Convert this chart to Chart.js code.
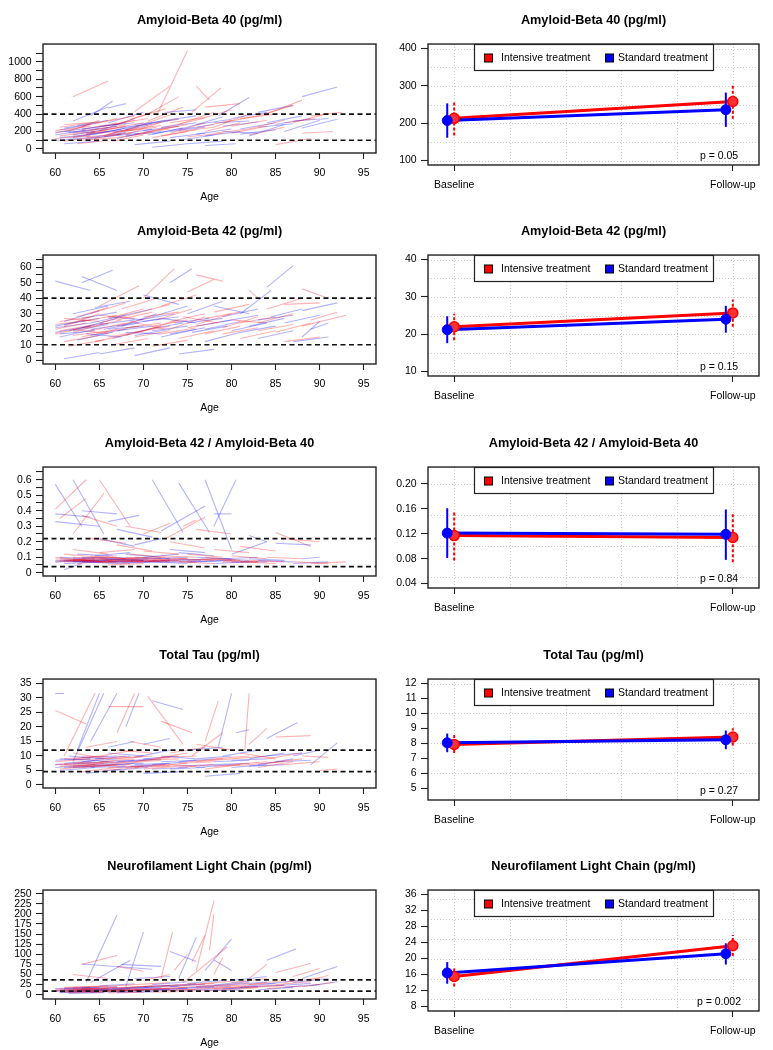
<!DOCTYPE html>
<html><head><meta charset="utf-8">
<script src="https://cdn.jsdelivr.net/npm/chart.js@4.4.1/dist/chart.umd.min.js"></script>
<style>
html,body{margin:0;padding:0;background:#fff;overflow:hidden}
body{position:relative;width:773px;height:1050px}
canvas{position:absolute}
</style>
</head><body>
<script>
// ---------------- DATA ----------------
const panelTitles = ['Amyloid-Beta 40 (pg/ml)','Amyloid-Beta 42 (pg/ml)','Amyloid-Beta 42 / Amyloid-Beta 40','Total Tau (pg/ml)','Neurofilament Light Chain (pg/ml)'];
const pValues = ['p = 0.05','p = 0.15','p = 0.84','p = 0.27','p = 0.002'];
const legendLabels = ['Intensive treatment','Standard treatment'];
const timeLabels = ['Baseline','Follow-up'];
const ageTicks = [60,65,70,75,80,85,90,95];
const ageTickLabels = ['60','65','70','75','80','85','90','95'];

// individual trajectories: [baseline age, baseline value, follow-up age, follow-up value]
const ab40Intensive = [[62,600,66,780],[71.5,380,75,1130],[69,430,73,720],[76,720,77.5,560],[75.5,420,78.8,700],[60,180,63.5,260],[60,120,64,150],[60.5,250,64,300],[61,90,65,140],[61.5,200,65,330],[62,140,66,210],[62.5,60,66,100],[63,260,67,350],[63.5,170,67,240],[64,210,68,280],[64.5,120,68.5,190],[65,300,69,380],[65.5,150,69.5,260],[66,230,70,300],[66.5,90,70,160],[67,280,71,420],[67.5,200,71.5,250],[68,160,72,310],[69,250,73,390],[70,190,74,260],[70.5,320,74.5,480],[71,130,75,200],[72,240,76,330],[73,180,77,300],[74,280,78,420],[75,140,79,180],[76,330,80,450],[77,200,81,300],[78,250,82,400],[79,300,83,380],[80,180,84,260],[81,350,85,400],[82,230,86,330],[84,400,88,560],[85,50,89,120],[86,300,89.5,350],[88,180,91.5,200],[89,380,92.5,420],[77,480,81,520],[68.5,340,72.5,460],[70.5,400,74,600],[83,380,87,500],[87,300,91,410],[63,100,67,130],[65,180,69,220],
  [60,210,64,260],[60.5,150,64.5,200],[61,280,65,310],[62,180,66,250],[63,220,67,300],[63.5,140,67.5,170],[64,190,68,260],[65,250,69,330],[66,170,70,240],[66.5,280,70.5,350],[67,130,71,190],[68,220,72,270],[69,170,73,230],[70,260,74,350],[71,210,75,280],[72,150,76,220],[73,300,77,360],[74,200,78,250],[76,240,80,330],[78,180,82,230],[80,260,84,330],[82,160,86,250]];
const ab40Standard = [[88,600,92,710],[64,380,66.5,550],[78.5,380,82,590],[60,160,63.5,220],[60,100,64,130],[60.5,220,64,280],[61,60,65,90],[61.5,180,65,240],[62,130,66,200],[62.5,270,66,330],[63,200,67,260],[63.5,110,67.5,170],[64,240,68,300],[64.5,170,68,240],[65,210,69,350],[65.5,140,69.5,180],[66,300,70,420],[66.5,190,70.5,270],[67,120,71,210],[68,230,72,320],[69,50,73,90],[70,280,74,340],[70.5,160,74.5,240],[71,20,75,60],[72,320,76,380],[73,200,77,250],[74,100,78,160],[75,250,79,370],[76,170,80,230],[77,40,80.5,60],[78,300,82,320],[79,200,83,180],[80,350,84,420],[81,230,85,300],[82,150,86,280],[83,420,87,500],[85,280,89,350],[86,200,90,330],[87,320,91,350],[88,240,92,340],[84,300,88,380],[72.5,420,76,450],[66,470,68,520],[62,320,66,480],[75,60,79,90],[61,200,64.5,190],[67,160,71,230],
  [60,190,64,240],[60.5,130,64.5,170],[61,240,65,300],[62,160,66,230],[63,230,67,280],[63.5,170,67.5,220],[64,130,68,190],[65,260,69,300],[66,200,70,280],[67,240,71,290],[68,150,72,200],[69,280,73,330],[70,210,74,260],[71,170,75,250],[72,250,76,300],[73,130,77,180],[74,220,78,280],[76,280,80,340],[77,150,81,200],[79,260,83,310],[81,170,85,220],[83,250,87,290]];

const ab42Intensive = [[60,20,63.5,24],[60,17,64,22],[60.5,25,64,28],[61,12,65,16],[61,22,65,30],[61.5,9,65.5,13],[62,18,66,24],[62.5,28,66,34],[63,15,67,20],[63.5,21,67.5,26],[64,30,68,37],[64.5,12,68.5,17],[65,24,69,30],[65,35,69.5,48],[65.5,18,69.5,22],[66,27,70,33],[66.5,10,70.5,14],[67,22,71,28],[67.5,33,71.5,40],[68,16,72,22],[68.5,25,72.5,20],[69,30,73,36],[70,40,73.5,59],[70,19,74,26],[71,9,75,13],[71.5,26,75.5,33],[72,35,76,42],[73,20,77,28],[74,14,78,19],[74.5,28,78.5,24],[75,44,78,52],[76,55,79,51],[76,23,80,30],[77,17,81,22],[78,31,82,36],[79,21,83,28],[80,26,84,24],[81,14,85,19],[82,45,83,40],[83,24,87,30],[84,33,88,40],[85,18,89,24],[86,36,90,37],[88,46,91,40],[88,22,93,29],[89,26,92,31],[86,12,90,15],[62,20,66,17],[69,15,73,19],
  [60,23,64,26],[60.5,19,64.5,23],[61,27,65,25],[62,16,66,19],[63,25,67,29],[64,19,68,24],[65,29,69,27],[66,15,70,19],[67,26,71,31],[68,21,72,24],[69,18,73,22],[70,28,74,31],[71,22,75,26],[72,17,76,21],[73,25,77,30],[75,21,79,25],[77,27,81,31],[79,17,83,21],[81,24,85,28],[83,19,87,23]];
const ab42Standard = [[60,51,64,45],[63,50,66.5,58],[63,54,67,45],[84,47,87,61],[60,18,64,22],[60,22,63.5,26],[60.5,15,64.5,20],[61,1,65,5],[61,25,65,32],[61.5,19,65.5,24],[62,30,66,35],[62.5,13,66.5,18],[63,21,67,27],[63.5,17,67.5,15],[64,24,68,29],[64.5,34,68.5,38],[65,4,69,8],[65.5,20,69.5,24],[66,28,70,26],[66.5,14,70.5,20],[67.5,22,71.5,30],[68,18,72,17],[69,3,73,8],[69.5,26,73.5,30],[70,42,74,36],[70.5,20,74.5,24],[71,28,75,35],[72,15,76,20],[73,50,75.5,59],[73.5,24,77.5,27],[74,4,78,7],[75,30,79,38],[75.5,18,79.5,22],[76,22,80,26],[77,12,81,18],[78,35,82,30],[79,25,83,29],[80,19,84,24],[81,30,84.5,45],[82,22,86,27],[83,14,87,19],[84.5,28,88,33],[86,24,90,29],[88,15,90,25],[89,20,91,24],[88,32,92,37],[87,12,91,15],[64,20,68,23],[67,19,71,22],
  [60,21,64,24],[60.5,17,64.5,19],[61,23,65,27],[62,19,66,23],[63,27,67,31],[64,16,68,20],[65,23,69,26],[66,20,70,22],[67,28,71,33],[68,23,72,27],[69,16,73,20],[70,25,74,28],[71,19,75,22],[72,27,76,24],[73,17,77,21],[75,24,79,27],[77,20,81,25],[79,28,83,33],[81,18,85,22],[83,26,87,29]];

const ratioIntensive = [[60,0.41,63.5,0.60],[60.5,0.35,63.5,0.48],[62,0.25,65.5,0.51],[65,0.60,68.5,0.30],[63,0.37,67,0.30],[68,0.30,72,0.26],[72.5,0.22,77,0.36],[85,0.26,89,0.17],[86,0.22,90,0.20],[76,0.28,80,0.25],[60,0.10,64,0.08],[60,0.07,63.5,0.09],[61,0.12,65,0.10],[61.5,0.08,65.5,0.07],[62,0.15,66,0.12],[62.5,0.06,66.5,0.08],[63,0.09,67,0.11],[64,0.11,68,0.09],[64.5,0.07,68.5,0.06],[65,0.13,69,0.15],[65.5,0.08,69.5,0.09],[66,0.10,70,0.08],[67,0.18,71,0.14],[67.5,0.07,71.5,0.08],[68.5,0.12,72.5,0.10],[69,0.09,73,0.07],[70,0.14,74,0.12],[71,0.08,75,0.09],[72,0.11,76,0.10],[73,0.20,77,0.16],[74,0.07,78,0.06],[75,0.12,79,0.10],[76.5,0.09,80.5,0.08],[78,0.15,82,0.13],[79,0.07,83,0.07],[80,0.11,84,0.09],[82,0.08,86,0.07],[84,0.10,88,0.09],[87,0.07,91,0.06],[89,0.06,93,0.07],[64,0.22,68,0.19],[70,0.25,73,0.32],[74.5,0.30,76,0.34],[66,0.05,70,0.06],[81,0.17,85,0.14],[62,0.08,66,0.09],[68,0.08,72,0.07],
  [60,0.09,64,0.08],[60.5,0.08,64.5,0.08],[61,0.07,65,0.08],[62,0.10,66,0.09],[63,0.08,67,0.07],[64,0.09,68,0.08],[65,0.07,69,0.08],[65,0.10,69,0.09],[66,0.08,70,0.07],[67,0.09,71,0.10],[68,0.10,72,0.09],[69,0.07,73,0.08],[70,0.09,74,0.08],[71,0.10,75,0.09],[72,0.08,76,0.07],[74,0.09,78,0.08],[75,0.08,79,0.09],[77,0.10,81,0.08],[79,0.08,83,0.07],[81,0.07,85,0.06]];
const ratioStandard = [[60,0.57,63,0.30],[62,0.60,65.5,0.25],[71,0.60,74.5,0.26],[74,0.58,77.5,0.26],[77,0.60,80,0.15],[78,0.30,80.5,0.60],[72,0.27,77,0.43],[60,0.38,64,0.36],[60,0.33,65,0.30],[63,0.40,67,0.38],[66,0.33,69.5,0.37],[78,0.38,80,0.38],[61,0.02,63,0.06],[60,0.08,64,0.07],[60.5,0.10,64.5,0.09],[61,0.06,65,0.07],[62,0.09,66,0.10],[62.5,0.12,66.5,0.11],[63,0.07,67,0.06],[64,0.08,68,0.09],[64.5,0.11,68.5,0.13],[65,0.07,69,0.07],[66,0.09,70,0.08],[67,0.06,71,0.07],[68,0.12,72,0.10],[69,0.08,73,0.08],[70,0.10,74,0.12],[71,0.07,75,0.06],[72.5,0.09,76.5,0.08],[74,0.13,78,0.11],[75,0.07,79,0.08],[76,0.10,80,0.09],[78,0.06,82,0.07],[79,0.09,83,0.10],[80,0.12,84,0.20],[82,0.24,84,0.20],[83,0.08,87,0.07],[85,0.19,89,0.18],[87,0.06,91,0.07],[88,0.09,90,0.10],[67,0.28,71,0.23],[69,0.18,72,0.22],[65,0.22,69,0.17],[73,0.15,77,0.13],[63,0.08,67,0.08],
  [60,0.07,64,0.08],[60.5,0.09,64.5,0.08],[61,0.08,65,0.07],[62,0.07,66,0.08],[63,0.10,67,0.09],[64,0.07,68,0.07],[65,0.09,69,0.08],[66,0.07,70,0.08],[66.5,0.10,70.5,0.09],[67,0.08,71,0.09],[68,0.07,72,0.07],[69,0.10,73,0.09],[70,0.07,74,0.08],[71,0.09,75,0.10],[72,0.07,76,0.07],[74,0.08,78,0.09],[76,0.07,80,0.08],[78,0.09,82,0.08],[80,0.07,84,0.07],[82,0.09,86,0.08]];

const tauIntensive = [[60,25.7,63.5,21],[61,10,64.5,31.6],[66,27,70,27],[67,18,69,31.6],[70.5,30.5,74.5,14],[72,22,75.5,18],[77,15,78.5,29],[81.5,12,82,31.6],[82,14,84,19.5],[85,16.5,89,17],[60,7,64,8],[60.5,5.5,64.5,6.5],[61,9,65,10],[61.5,6,65.5,7.5],[62,11,66,9],[62.5,7.5,66.5,8],[63,4.5,67,6],[64,8.5,68,10],[64.5,6.5,68.5,7],[65,10,69,12],[65.5,5,69.5,6],[66,7,70,8.5],[67,12,71,11],[68,6,72,7],[69,8,73,9.5],[70,5.5,74,6.5],[71,9,75,11],[72,7,76,6.5],[73,11,77,13],[74,6,78,7],[75,8,79,9],[76,14,80,12],[77,5.5,81,7],[78,9,82,10],[80,7,84,8],[81,11,85,9],[83,6,87,8],[84,9,88,11],[86,7,90,8],[88,10,91,9.5],[90,5,92,5.5],[68.5,15,72,13],[63.5,13,67,15],[75.5,10,79,18],[62,6.5,66,7],[66,9,70,10],
  [60,8,64,9],[60.5,6.5,64.5,7],[61,7,65,7.5],[62,9,66,10],[63,6,67,7],[64,7.5,68,8],[65,8,69,9],[66,6,70,6.5],[67,9,71,10],[68,7.5,72,8.5],[69,6,73,6.5],[70,8.5,74,9],[71,6.5,75,7.5],[72,9.5,76,10],[74,7.5,78,8],[76,8,80,9],[78,6.5,82,7],[80,9,84,10],[82,7,86,8],[84,7.5,88,9]];
const tauStandard = [[60,31.5,61,31.5],[62,8,65.5,31.6],[64,15,67,31.6],[62.5,12,65,31.6],[68,20,69.5,31.6],[71,29,74.5,26],[78.5,13,80,31.6],[84,16,87.5,21.5],[80.5,18,82,19],[60,6,64,7],[60,8.5,64,9],[60.5,5,64.5,6],[61,7.5,65,8.5],[61.5,10,65.5,9],[62,6,66,7],[63,8,67,9],[63.5,4,67.5,5.5],[64.5,9,68.5,10],[65,6.5,69,7.5],[66,11,70,10],[66.5,5,70.5,6],[67,8,71,9],[68.5,6.5,72.5,7],[69,9.5,73,12],[70,4,74,4.5],[71,7,75,8],[72,10,76,9],[73,5.5,77,6],[74,8,78,9],[75,12,79,13],[76,6,80,7],[77,3,81,4],[78,8,82,8.5],[79,10,83,12],[80,6,84,7],[82,9,86,11],[83,7,87,9],[85,8,89,8.5],[87,10,90,12],[89,7,92,14.5],[70,14,73,16],[66,13,69,15],[64,7,68,8],
  [60,7,64,7.5],[60.5,9,64.5,8.5],[61,6,65,6.5],[62,7.5,66,8],[63,9.5,67,10],[64,6,68,6.5],[65,8,69,8.5],[66,7,70,7.5],[67,6,71,6.5],[68,8,72,9],[69,7,73,7.5],[70,9,74,10],[71,5.5,75,6],[72,8,76,8.5],[74,6.5,78,7],[76,9,80,10],[78,7,82,7.5],[80,8.5,84,9],[82,6.5,86,7],[84,10,88,11]];

const nflIntensive = [[63,75,67,97],[72,40,73.3,155],[76,60,78,232],[77.5,110,78,200],[75.5,80,77,147],[74.5,30,79.5,118],[78,50,79,92],[82,40,84,75],[85,55,89,77],[87,45,90,65],[62,50,66,40],[67,70,70,58],[73.5,60,75,100],[60,12,64,15],[60.5,8,64.5,10],[61,18,65,20],[61.5,5,65.5,6],[62,10,66,14],[63,14,67,18],[64,7,68,9],[65,20,69,25],[65.5,11,69.5,13],[66,4,70,6],[67,16,71,22],[68,9,72,12],[69,25,73,30],[70,13,74,17],[71,6,75,8],[72,20,76,28],[73,11,77,15],[74,17,78,24],[75,9,79,12],[76,26,80,33],[77,15,81,20],[78,22,82,30],[79,12,83,17],[80,30,84,40],[81,18,85,24],[82,25,86,35],[84,15,88,22],[86,30,90,42],[88,20,91.5,30],[89,35,91,48],[70,35,73,50],[62,18,66,22],[66,10,70,12],
  [60,10,64,12],[60.5,14,64.5,16],[61,7,65,9],[62,12,66,15],[63,9,67,11],[64,15,68,18],[65,8,69,10],[66,13,70,16],[67,10,71,13],[68,18,72,22],[69,12,73,15],[70,20,74,24],[71,14,75,18],[72,10,76,13],[74,22,78,28],[76,18,80,23],[78,15,82,20],[80,22,84,28],[82,17,86,23],[85,25,89,32]];
const nflStandard = [[63.5,30,67,197],[68,20,70,155],[63,76,71,63],[67.5,75,72,70],[64,30,68.5,85],[73,107,76,82],[74,40,76,142],[77,60,80,138],[84,85,87.3,113],[78,86,80,60],[88,40,92,70],[60,8,64,10],[60,15,64,18],[60.5,5,64.5,7],[61,11,65,13],[61.5,3,65.5,5],[62,9,66,12],[63,17,67,20],[64,6,68,8],[64.5,12,68.5,15],[65,22,69,27],[66,9,70,11],[66.5,14,70.5,19],[67,5,71,7],[68,11,72,15],[69,18,73,23],[70,8,74,11],[71,25,75,32],[72,13,76,17],[73,20,77,26],[74,10,78,14],[75,28,79,35],[76,16,80,21],[77,9,81,12],[78,24,82,33],[79,14,83,20],[80,35,84,45],[81,20,85,28],[83,12,87,18],[84,27,88,36],[86,18,90,25],[87,30,91,40],[89,22,92,32],[69,40,73,45],[61,14,65,16],
  [60,11,64,13],[60.5,6,64.5,8],[61,16,65,18],[62,8,66,10],[63,12,67,14],[64,10,68,13],[65,15,69,18],[66,7,70,9],[67,13,71,16],[68,16,72,19],[69,10,73,13],[70,17,74,21],[71,12,75,15],[72,22,76,26],[74,16,78,20],[76,20,80,25],[78,13,82,18],[80,25,84,31],[82,19,86,24],[85,22,89,28]];

// reference (dashed) lines per biomarker
const ab40Ref = [400,100];
const ab42Ref = [40,10];
const ratioRef = [0.22,0.04];
const tauRef = [12,4.6];
const nflRef = [36.5,9];

// left y axis ticks / labels
const ab40Ticks = [0,100,200,300,400,500,600,700,800,900,1000,1100];
const ab40TickLabels = ['0','','200','','400','','600','','800','','1000',''];
const ab42Ticks = [0,5,10,15,20,25,30,35,40,45,50,55,60,65];
const ab42TickLabels = ['0','','10','','20','','30','','40','','50','','60',''];
const ratioTicks = [0,0.05,0.1,0.15,0.2,0.25,0.3,0.35,0.4,0.45,0.5,0.55,0.6,0.65];
const ratioTickLabels = ['0','','0.1','','0.2','','0.3','','0.4','','0.5','','0.6',''];
const tauTicks = [0,5,10,15,20,25,30,35];
const tauTickLabels = ['0','5','10','15','20','25','30','35'];
const nflTicks = [0,25,50,75,100,125,150,175,200,225,250];
const nflTickLabels = ['0','25','50','75','100','125','150','175','200','225','250'];

// group means with 95% CI: [lower, mean, upper] at baseline and follow-up
const ab40IntensiveMean = [[167,213,260],[212,258,304]];
const ab40StandardMean = [[161,207,253],[190,236,282]];
const ab42IntensiveMean = [[18.4,22.0,25.5],[22.0,25.7,29.3]];
const ab42StandardMean = [[17.6,21.2,24.8],[20.4,24.0,27.6]];
const ratioIntensiveMean = [[0.077,0.117,0.157],[0.074,0.114,0.154]];
const ratioStandardMean = [[0.081,0.121,0.161],[0.078,0.119,0.159]];
const tauIntensiveMean = [[7.35,7.92,8.55],[7.85,8.42,9.0]];
const tauStandardMean = [[7.4,8.03,8.65],[7.6,8.23,8.85]];
const nflIntensiveMean = [[13.0,15.5,18.0],[20.6,23.2,25.9]];
const nflStandardMean = [[13.7,16.4,19.1],[18.5,21.2,23.8]];

// right y axis ticks / grid
const ab40MeanTicks = [100,200,300,400];
const ab40MeanGrid = [100,150,200,250,300,350,400];
const ab42MeanTicks = [10,20,30,40];
const ab42MeanGrid = [10,15,20,25,30,35,40];
const ratioMeanTicks = [0.04,0.08,0.12,0.16,0.20];
const ratioMeanTickLabels = ['0.04','0.08','0.12','0.16','0.20'];
const ratioMeanGrid = [0.05,0.10,0.15,0.20];
const tauMeanTicks = [5,6,7,8,9,10,11,12];
const tauMeanGrid = [6,8,10,12];
const nflMeanTicks = [8,12,16,20,24,28,32,36];
const nflMeanGrid = [10,15,20,25,30,35];
const timeGrid = [1,1.2,1.4,1.6,1.8,2];
const intensiveX = [1,2];
const standardX = [0.975,1.975];

// ---------------- RENDERING ----------------
Chart.defaults.font.family = '"Liberation Sans", Arial, Helvetica, sans-serif';
Chart.defaults.color = '#000';
const FS = 10.5;
const RED = '#ff0000', BLUE = '#0000ff';
const RED_T = 'rgba(255,0,0,0.3)', BLUE_T = 'rgba(0,0,255,0.3)';
const rowTops = [0,211,423,635,846];

const panels = [
  {seg:[ab40Intensive,ab40Standard], ref:ab40Ref, yr:[-46,1203], t:ab40Ticks, tl:ab40TickLabels,
   mean:[ab40IntensiveMean,ab40StandardMean], myr:[88,412], mt:ab40MeanTicks, mtl:ab40MeanTicks.map(String), mg:ab40MeanGrid},
  {seg:[ab42Intensive,ab42Standard], ref:ab42Ref, yr:[-2.4,67.8], t:ab42Ticks, tl:ab42TickLabels,
   mean:[ab42IntensiveMean,ab42StandardMean], myr:[8.8,41.2], mt:ab42MeanTicks, mtl:ab42MeanTicks.map(String), mg:ab42MeanGrid},
  {seg:[ratioIntensive,ratioStandard], ref:ratioRef, yr:[-0.021,0.682], t:ratioTicks, tl:ratioTickLabels,
   mean:[ratioIntensiveMean,ratioStandardMean], myr:[0.0328,0.2272], mt:ratioMeanTicks, mtl:ratioMeanTickLabels, mg:ratioMeanGrid},
  {seg:[tauIntensive,tauStandard], ref:tauRef, yr:[-1.05,36.5], t:tauTicks, tl:tauTickLabels,
   mean:[tauIntensiveMean,tauStandardMean], myr:[4.2,12.3], mt:tauMeanTicks, mtl:tauMeanTicks.map(String), mg:tauMeanGrid},
  {seg:[nflIntensive,nflStandard], ref:nflRef, yr:[-10.7,259], t:nflTicks, tl:nflTickLabels,
   mean:[nflIntensiveMean,nflStandardMean], myr:[6.88,37.12], mt:nflMeanTicks, mtl:nflMeanTicks.map(String), mg:nflMeanGrid}
];

function mkCanvas(left, top, w, h){
  const c = document.createElement('canvas');
  c.width = w; c.height = h;
  c.style.left = left+'px'; c.style.top = top+'px';
  c.style.width = w+'px'; c.style.height = h+'px';
  document.body.appendChild(c);
  return c;
}

function yAxis(min,max,ticks,labels,width){
  return {type:'linear', position:'left', min:min, max:max,
    afterBuildTicks: s => { s.ticks = ticks.map(v => ({value:v})); },
    afterFit: s => { s.width = width; },
    ticks:{autoSkip:false, padding:4.3, font:{size:FS}, color:'#000', callback:(v,i) => labels[i]},
    grid:{display:true, drawOnChartArea:false, drawTicks:true, tickLength:7, tickColor:'#222', tickWidth:1.1},
    border:{display:false}};
}
function xAxis(min,max,ticks,labels,height,pad,title){
  return {type:'linear', position:'bottom', min:min, max:max,
    afterBuildTicks: s => { s.ticks = ticks.map(v => ({value:v})); },
    afterFit: s => { s.height = height; },
    ticks:{autoSkip:false, maxRotation:0, minRotation:0, padding:pad, font:{size:FS}, color:'#000', callback:(v,i) => labels[i]},
    grid:{display:true, drawOnChartArea:false, drawTicks:true, tickLength:6, tickColor:'#222', tickWidth:1.1},
    border:{display:false},
    title: title ? {display:true, text:title, font:{size:FS}, color:'#000', padding:{top:0,bottom:8.7}} : {display:false}};
}
function titleOpt(text){
  return {display:true, text:text, fullSize:false, font:{size:12.7, weight:'bold'}, color:'#000', padding:{top:12.4,bottom:16.4}};
}
function drawBox(ch){
  const a = ch.chartArea, ctx = ch.ctx;
  ctx.save(); ctx.strokeStyle = '#222'; ctx.lineWidth = 1.4; ctx.setLineDash([]);
  ctx.strokeRect(a.left, a.top, a.right-a.left, a.bottom-a.top);
  ctx.restore();
}

panels.forEach((p, r) => {
  // ---- left: spaghetti plot ----
  const cl = mkCanvas(0, rowTops[r], 386, 212);
  const ds = [];
  p.seg[0].forEach(s => ds.push({data:[{x:s[0],y:s[1]},{x:s[2],y:s[3]}], showLine:true, borderColor:RED_T, borderWidth:1.1, pointRadius:0}));
  p.seg[1].forEach(s => ds.push({data:[{x:s[0],y:s[1]},{x:s[2],y:s[3]}], showLine:true, borderColor:BLUE_T, borderWidth:1.1, pointRadius:0}));
  new Chart(cl, {type:'scatter', data:{datasets:ds},
    options:{responsive:false, animation:false, events:[],
      layout:{padding:{left:0,right:10,top:0,bottom:0}},
      plugins:{legend:{display:false}, tooltip:{enabled:false}, title:titleOpt(panelTitles[r])},
      scales:{x:xAxis(58.6,96.4,ageTicks,ageTickLabels,59,7.4,'Age'), y:yAxis(p.yr[0],p.yr[1],p.t,p.tl,43)}},
    plugins:[{id:'leftDecor', afterDatasetsDraw(ch){
      const a = ch.chartArea, ctx = ch.ctx, ys = ch.scales.y;
      ctx.save(); ctx.strokeStyle = '#111'; ctx.lineWidth = 1.7; ctx.setLineDash([5,3.5]);
      p.ref.forEach(v => { const y = ys.getPixelForValue(v); ctx.beginPath(); ctx.moveTo(a.left,y); ctx.lineTo(a.right,y); ctx.stroke(); });
      ctx.restore();
      drawBox(ch);
    }}]
  });

  // ---- right: group means ----
  const cr = mkCanvas(386, rowTops[r], 387, 212);
  const mi = p.mean[0], ms = p.mean[1];
  const rds = [
    {data:ms.map((d,i)=>({x:standardX[i],y:d[1]})), showLine:false, pointRadius:5, pointBackgroundColor:BLUE, pointBorderColor:BLUE, pointBorderWidth:1},
    {data:mi.map((d,i)=>({x:intensiveX[i],y:d[1]})), showLine:false, pointRadius:5, pointBackgroundColor:'#ff3030', pointBorderColor:RED, pointBorderWidth:1.5},
  ];
  [0,1].forEach(i => {
    rds.push({data:[{x:standardX[i],y:ms[i][0]},{x:standardX[i],y:ms[i][2]}], showLine:true, borderColor:BLUE, borderWidth:2, pointRadius:0});
    rds.push({data:[{x:intensiveX[i],y:mi[i][0]},{x:intensiveX[i],y:mi[i][2]}], showLine:true, borderColor:RED, borderWidth:2, borderDash:[3,2], pointRadius:0});
  });
  rds.push({data:ms.map((d,i)=>({x:standardX[i],y:d[1]})), showLine:true, borderColor:BLUE, borderWidth:3, pointRadius:0});
  rds.push({data:mi.map((d,i)=>({x:intensiveX[i],y:d[1]})), showLine:true, borderColor:RED, borderWidth:3, pointRadius:0});
  new Chart(cr, {type:'scatter', data:{datasets:rds},
    options:{responsive:false, animation:false, events:[],
      layout:{padding:{left:0,right:14,top:0,bottom:0}},
      plugins:{legend:{display:false}, tooltip:{enabled:false}, title:titleOpt(panelTitles[r])},
      scales:{x:xAxis(0.906,2.094,[1,2],timeLabels,47,7.7,null), y:yAxis(p.myr[0],p.myr[1],p.mt,p.mtl,42)}},
    plugins:[{id:'rightDecor',
      beforeDatasetsDraw(ch){
        const a = ch.chartArea, ctx = ch.ctx, xs = ch.scales.x, ys = ch.scales.y;
        ctx.save(); ctx.strokeStyle = '#c8c8c8'; ctx.lineWidth = 1; ctx.setLineDash([1,2]);
        timeGrid.forEach(v => { const x = Math.round(xs.getPixelForValue(v))+0.5; ctx.beginPath(); ctx.moveTo(x,a.top); ctx.lineTo(x,a.bottom); ctx.stroke(); });
        p.mg.forEach(v => { const y = Math.round(ys.getPixelForValue(v))+0.5; ctx.beginPath(); ctx.moveTo(a.left,y); ctx.lineTo(a.right,y); ctx.stroke(); });
        ctx.restore();
      },
      afterDatasetsDraw(ch){
        const a = ch.chartArea, ctx = ch.ctx;
        const cx = (a.left + a.right)/2, lw = 239, lh = 26;
        const lx = Math.round(cx - lw/2) + 0.5, ly = Math.round(a.top) + 0.5;
        ctx.save();
        ctx.fillStyle = '#fff'; ctx.fillRect(lx, ly, lw, lh);
        ctx.strokeStyle = '#222'; ctx.lineWidth = 1.2; ctx.setLineDash([]); ctx.strokeRect(lx, ly, lw, lh);
        const my = ly + 13.5;
        [[10, RED, 26.5, legendLabels[0]],[131, BLUE, 143.5, legendLabels[1]]].forEach(it => {
          ctx.fillStyle = it[1]; ctx.fillRect(lx+it[0], my-4, 8, 8);
          ctx.strokeStyle = '#000'; ctx.lineWidth = 1; ctx.strokeRect(lx+it[0], my-4, 8, 8);
          ctx.fillStyle = '#000'; ctx.font = FS+'px "Liberation Sans", Arial, sans-serif';
          ctx.textAlign = 'left'; ctx.textBaseline = 'middle'; ctx.fillText(it[3], lx+it[2], my);
        });
        ctx.textAlign = 'center'; ctx.fillText(pValues[r], a.right - 40, a.bottom - 8.4);
        ctx.restore();
        drawBox(ch);
      }}]
  });
});
</script>
</body></html>
